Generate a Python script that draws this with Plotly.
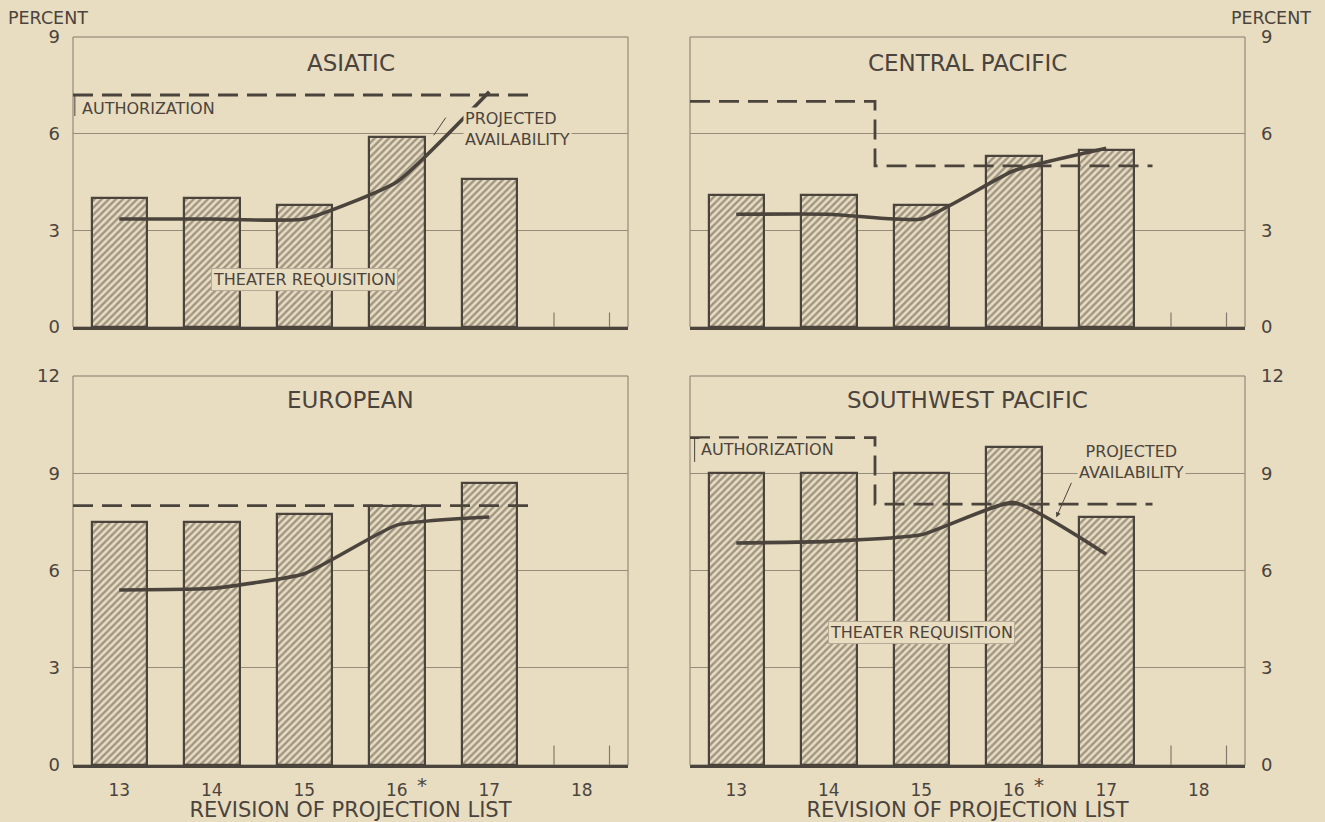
import plotly.graph_objects as go

# ---------------- data ----------------
revisions = [13, 14, 15, 16, 17]
tick_vals = [13, 14, 15, 16, 17, 18]
tick_text = ["13", "14", "15", "16", "17", "18"]

panel_titles = ["ASIATIC", "CENTRAL PACIFIC", "EUROPEAN", "SOUTHWEST PACIFIC"]

asiatic_req = [4.0, 4.0, 3.8, 5.9, 4.6]
asiatic_avail = [3.35, 3.35, 3.35, 4.5, 7.3]
asiatic_auth = [7.2, 7.2, 7.2, 7.2, 7.2]

central_req = [4.1, 4.1, 3.8, 5.3, 5.5]
central_avail = [3.5, 3.5, 3.35, 4.85, 5.55]
central_auth = [7.0, 7.0, 5.0, 5.0, 5.0]

european_req = [7.5, 7.5, 7.75, 8.0, 8.7]
european_avail = [5.4, 5.45, 5.9, 7.4, 7.65]
european_auth = [8.0, 8.0, 8.0, 8.0, 8.0]

southwest_req = [9.0, 9.0, 9.0, 9.8, 7.65]
southwest_avail = [6.85, 6.9, 7.1, 8.1, 6.5]
southwest_auth = [10.1, 10.1, 8.05, 8.05, 8.05]

y_max = [9, 9, 12, 12]
y_ticks = [[0, 3, 6, 9], [0, 3, 6, 9], [0, 3, 6, 9, 12], [0, 3, 6, 9, 12]]

# ---------------- style ----------------
BG = "#E8DCC1"
INK = "#4B443C"
GRID = "#968C7C"
FONT = "DejaVu Sans"
BAR_W = 0.6

W, H = 1325, 822
xdom = [(73 / W, 628 / W), (690 / W, 1245 / W)]
ydom_top = (1 - 327 / H, 1 - 37 / H)
ydom_bot = (1 - 765 / H, 1 - 376 / H)

panels = [
    (asiatic_req, asiatic_avail, asiatic_auth),
    (central_req, central_avail, central_auth),
    (european_req, european_avail, european_auth),
    (southwest_req, southwest_avail, southwest_auth),
]

fig = go.Figure()

for i, (req, avail, auth) in enumerate(panels):
    sfx = "" if i == 0 else str(i + 1)
    xa, ya = "x" + sfx, "y" + sfx
    fig.add_trace(go.Bar(
        x=revisions, y=req, width=BAR_W, xaxis=xa, yaxis=ya,
        marker=dict(color=BG, line=dict(color=INK, width=2.2),
                    pattern=dict(shape="/", fgcolor="#554D44", bgcolor=BG,
                                 size=5, solidity=0.47)),
        showlegend=False, hoverinfo="skip"))
    # authorization (step, dashed) across category edges
    edges = [r - 0.5 for r in revisions] + [revisions[-1] + 0.5]
    fig.add_trace(go.Scatter(
        x=edges, y=auth + [auth[-1]], xaxis=xa, yaxis=ya, mode="lines",
        line=dict(color=INK, width=2.8, dash="20px,9px", shape="hv"),
        showlegend=False, hoverinfo="skip"))
    fig.add_trace(go.Scatter(
        x=revisions, y=avail, xaxis=xa, yaxis=ya, mode="lines",
        line=dict(color=INK, width=3.6, shape="spline", smoothing=0.45),
        showlegend=False, hoverinfo="skip"))

layout = dict(
    width=W, height=H, paper_bgcolor=BG, plot_bgcolor=BG,
    margin=dict(l=0, r=0, t=0, b=0, autoexpand=False), showlegend=False,
    font=dict(family=FONT, color=INK), bargap=0,
)

for i in range(4):
    sfx = "" if i == 0 else str(i + 1)
    col = i % 2
    row = i // 2
    show_x = row == 1
    layout["xaxis" + sfx] = dict(
        domain=xdom[col], anchor="y" + sfx, range=[12.5, 18.5],
        tickvals=tick_vals, ticktext=tick_text, showticklabels=show_x,
        ticks="", showgrid=False, zeroline=False, automargin=False,
        showline=True, linecolor=INK, linewidth=3,
        ticklabelstandoff=8,
        tickfont=dict(size=17, color=INK),
        title=dict(text="REVISION OF PROJECTION LIST", standoff=6,
                   font=dict(size=21, color=INK)) if show_x else None,
    )
    layout["yaxis" + sfx] = dict(
        domain=ydom_top if row == 0 else ydom_bot, anchor="x" + sfx,
        range=[0, y_max[i]], tickvals=y_ticks[i],
        side="left" if col == 0 else "right", automargin=False,
        showgrid=True, gridcolor=GRID, gridwidth=1, zeroline=False,
        ticks="", ticklabelstandoff=12 if col == 0 else 15, showline=False,
        tickfont=dict(size=18, color=INK),
    )

fig.update_layout(**layout)

shapes = []
annos = []
for i in range(4):
    sfx = "" if i == 0 else str(i + 1)
    xa, ya = "x" + sfx, "y" + sfx
    # panel frame
    shapes.append(dict(type="rect", xref=xa + " domain", yref=ya + " domain",
                       x0=0, x1=1, y0=0, y1=1, line=dict(color="#857B6C", width=1),
                       layer="below"))
    # little edge ticks of the empty revision-18 slot
    for dx in (-BAR_W / 2, BAR_W / 2):
        shapes.append(dict(type="line", xref=xa, yref=ya + " domain",
                           x0=18 + dx, x1=18 + dx, y0=0, y1=0.05,
                           line=dict(color="#857B6C", width=1.2)))
    annos.append(dict(xref=xa, yref=ya, x=15.5, y=y_max[i] * (8.2 / 9 if i < 2 else 11.27 / 12),
                      text=panel_titles[i], showarrow=False, yanchor="middle",
                      font=dict(size=23, color=INK)))

# PERCENT labels
annos.append(dict(xref="paper", yref="paper", x=6 / W, y=1 - 18 / H, xanchor="left",
                  yanchor="middle", text="PERCENT", showarrow=False,
                  font=dict(size=17.5, color=INK)))
annos.append(dict(xref="paper", yref="paper", x=1 - 12 / W, y=1 - 18 / H, xanchor="right",
                  yanchor="middle", text="PERCENT", showarrow=False,
                  font=dict(size=17.5, color=INK)))

lab = dict(size=16, color=INK)
# Asiatic labels
annos.append(dict(xref="x", yref="y", x=12.58, y=6.78, xanchor="left", text="AUTHORIZATION",
                  showarrow=False, font=lab, bgcolor=BG))
shapes.append(dict(type="line", xref="x", yref="y", x0=12.52, x1=12.52, y0=7.2, y1=6.55,
                   line=dict(color=INK, width=1)))
annos.append(dict(xref="x", yref="y", x=17.3, y=6.13, text="PROJECTED<br>AVAILABILITY",
                  showarrow=False, font=lab, bgcolor=BG, align="left"))
shapes.append(dict(type="line", xref="x", yref="y", x0=16.4, x1=16.53, y0=5.95, y1=6.5,
                   line=dict(color=INK, width=1)))
annos.append(dict(xref="x", yref="y", x=15.0, y=1.48, text="THEATER REQUISITION",
                  showarrow=False, font=lab, bgcolor=BG, bordercolor="#B5AB98",
                  borderwidth=1, borderpad=1))

# Southwest Pacific labels
annos.append(dict(xref="x4", yref="y4", x=12.6, y=9.72, xanchor="left", text="AUTHORIZATION",
                  showarrow=False, font=lab, bgcolor=BG))
shapes.append(dict(type="line", xref="x4", yref="y4", x0=12.55, x1=12.55, y0=10.1, y1=9.35,
                   line=dict(color=INK, width=1)))
annos.append(dict(xref="x4", yref="y4", x=17.27, y=9.34, text="PROJECTED<br>AVAILABILITY",
                  showarrow=False, font=lab, bgcolor=BG))
annos.append(dict(xref="x4", yref="y4", x=16.46, y=7.64, ax=16.63, ay=8.75,
                  axref="x4", ayref="y4", text="", showarrow=True, arrowhead=2,
                  arrowsize=1, arrowwidth=1, arrowcolor=INK))
annos.append(dict(xref="x4", yref="y4", x=15.0, y=4.08, text="THEATER REQUISITION",
                  showarrow=False, font=lab, bgcolor=BG, bordercolor="#B5AB98",
                  borderwidth=1, borderpad=1))

# asterisks by revision 16
for xa in ("x3", "x4"):
    annos.append(dict(xref=xa, yref="paper", x=16.27, y=1 - 785 / H, text="*",
                      yanchor="middle", showarrow=False, font=dict(size=20, color=INK)))

fig.update_layout(shapes=shapes, annotations=annos)
fig.write_html(
    "out.html",
    config={"displayModeBar": False},
    post_script="document.body.style.margin='0';document.body.style.background='#E8DCC1';",
)
